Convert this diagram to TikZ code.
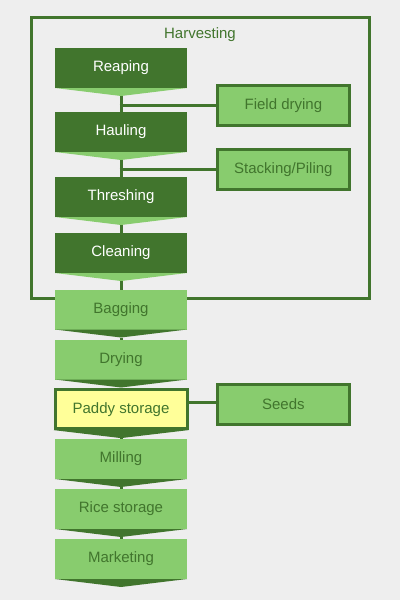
\documentclass[tikz,border=0pt]{standalone}
\usepackage{fontspec}
\setmainfont{Liberation Sans}
\definecolor{dkgreen}{HTML}{41752D}
\definecolor{ltgreen}{HTML}{88CC6E}
\definecolor{paleyellow}{HTML}{FFFF99}
\definecolor{bggray}{HTML}{EEEEEE}
\tikzset{
  every node/.style={font=\fontsize{15}{18}\selectfont, inner sep=0pt, outer sep=0pt},
  darkstep/.style={rectangle, fill=dkgreen, text=white, minimum width=132pt, minimum height=40pt},
  lightstep/.style={rectangle, fill=ltgreen, text=dkgreen, minimum width=132pt, minimum height=40pt},
  paddystep/.style={rectangle, fill=paleyellow, draw=dkgreen, line width=3pt, text=dkgreen, minimum width=132pt, minimum height=39pt},
  sidebox/.style={rectangle, fill=ltgreen, draw=dkgreen, line width=3pt, text=dkgreen, minimum width=131.7pt, minimum height=39.7pt},
  link/.style={draw=dkgreen, line width=3pt},
  frame/.style={draw=dkgreen, line width=3pt},
}
\begin{document}
\begin{tikzpicture}[x=1pt,y=-1pt]
\fill[bggray] (0,0) rectangle (400,600);
\useasboundingbox (0,0) rectangle (400,600);
% harvesting frame
\draw[frame] (31.5,17.5) rectangle (369.5,298.3);
\node[text=dkgreen] (harvlabel) at (200,35) {Harvesting};
% main steps
\node[darkstep] (reaping) at (121,68) {Reaping};
\node[darkstep] (hauling) at (121,132) {Hauling};
\node[darkstep] (threshing) at (121,197) {Threshing};
\node[darkstep] (cleaning) at (121,253) {Cleaning};
\node[lightstep] (bagging) at (121,309.5) {Bagging};
\node[lightstep] (drying) at (121,359.5) {Drying};
\node[paddystep] (paddy) at (121,409.2) {Paddy storage};
\node[lightstep] (milling) at (121,459) {Milling};
\node[lightstep] (rice) at (121,509) {Rice storage};
\node[lightstep] (marketing) at (121,559) {Marketing};
% chevrons
\foreach \n in {reaping,hauling,threshing,cleaning}{
  \fill[ltgreen] (\n.south west) -- (\n.south east) -- ([yshift=-8pt]\n.south) -- cycle;
  \coordinate (\n-tip) at ([yshift=-8pt]\n.south);
}
\foreach \n in {bagging,drying,milling,rice,marketing}{
  \fill[dkgreen] (\n.south west) -- (\n.south east) -- ([yshift=-8pt]\n.south) -- cycle;
  \coordinate (\n-tip) at ([yshift=-8pt]\n.south);
}
\fill[dkgreen] ([shift={(-1.5pt,-1.4pt)}]paddy.south west) -- ([shift={(1.5pt,-1.4pt)}]paddy.south east) -- ([yshift=-9.4pt]paddy.south) -- cycle;
\coordinate (paddy-tip) at ([yshift=-9.4pt]paddy.south);
% vertical connectors
\draw[link] (reaping-tip) -- (hauling.north);
\draw[link] (hauling-tip) -- (threshing.north);
\draw[link] (threshing-tip) -- (cleaning.north);
\draw[link] (cleaning-tip) -- (bagging.north);
\draw[link] (bagging-tip) -- (drying.north);
\draw[link] (drying-tip) -- ([yshift=1.5pt]paddy.north);
\draw[link] (paddy-tip) -- (milling.north);
\draw[link] (milling-tip) -- (rice.north);
\draw[link] (rice-tip) -- (marketing.north);
% side boxes
\node[sidebox] (field) at (283.4,105.3) {Field drying};
\node[sidebox] (stacking) at (283.4,169.5) {Stacking/Piling};
\node[sidebox] (seeds) at (283.4,404.2) {Seeds};
\coordinate (j1) at (field.west -| reaping-tip);
\coordinate (j2) at (stacking.west -| hauling-tip);
\coordinate (j3) at ([yshift=1.8pt]seeds.west -| paddy.east);
\draw[link] ([xshift=-1.5pt]j1) -- ([xshift=-1.5pt]field.west);
\draw[link] ([xshift=-1.5pt]j2) -- ([xshift=-1.5pt]stacking.west);
\draw[link] ([xshift=1.5pt]j3) -- ([xshift=-1.5pt,yshift=1.8pt]seeds.west);
\end{tikzpicture}
\end{document}
